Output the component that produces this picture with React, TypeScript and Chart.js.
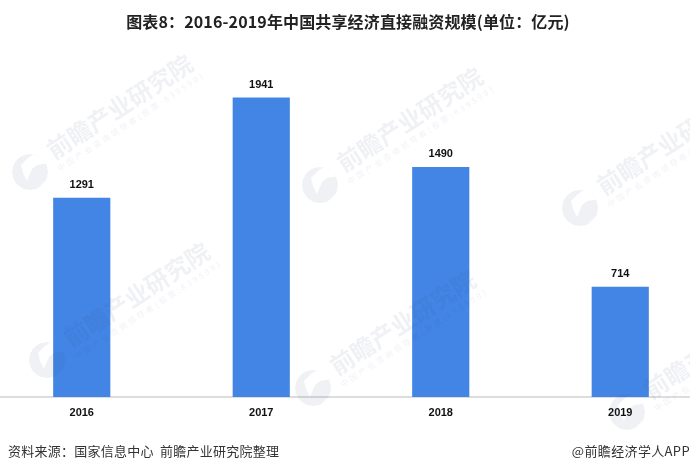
import { useEffect, useRef } from "react";
import { Chart, registerables } from "chart.js";
import type { Plugin } from "chart.js";

Chart.register(...registerables);

const years = ["2016", "2017", "2018", "2019"];
const amounts = [1291, 1941, 1490, 714];

const titleText = "图表8：2016-2019年中国共享经济直接融资规模(单位：亿元)";
const sourceText = "资料来源：国家信息中心  前瞻产业研究院整理";
const creditText = "@前瞻经济学人APP";
const markName = "前瞻产业研究院";
const markSub = "中国产业咨询领导者(股票:839599)";

// canvas is wider than the page, the outer bars sit closer to the edge than a category band allows
const bleed = 8;
const cjk = '"Noto Sans CJK SC", sans-serif';
const latin = '"Liberation Sans", sans-serif';

const markSpots = [
  [30, 172],
  [320, 185],
  [580, 208],
  [47, 360],
  [313, 388],
  [627, 412],
];

const watermark: Plugin<"bar"> = {
  id: "watermark",
  afterDatasetsDraw(chart) {
    const { ctx } = chart;
    ctx.save();
    ctx.translate(bleed, 0);
    ctx.fillStyle = "rgba(50, 70, 120, 0.075)";
    for (const [x, y] of markSpots) {
      ctx.save();
      ctx.translate(x, y);
      // round logo with the notch cut out of it
      ctx.save();
      ctx.beginPath();
      ctx.arc(0, 0, 18, 0, Math.PI * 2);
      ctx.clip();
      ctx.beginPath();
      ctx.arc(0, 0, 18, 0, Math.PI * 2);
      ctx.moveTo(-7, 1);
      ctx.lineTo(-9, -7);
      ctx.lineTo(-2, -14);
      ctx.lineTo(7, -20);
      ctx.lineTo(20, -9);
      ctx.lineTo(7, -7);
      ctx.lineTo(2, -3);
      ctx.lineTo(-3, 9);
      ctx.closePath();
      ctx.moveTo(19, 5);
      ctx.lineTo(24, 24);
      ctx.lineTo(5, 19);
      ctx.closePath();
      ctx.fill("evenodd");
      ctx.restore();
      ctx.rotate((-33 * Math.PI) / 180);
      ctx.font = `bold 24px ${cjk}`;
      ctx.textBaseline = "middle";
      ctx.fillText(markName, 27, -6);
      ctx.font = `8px ${cjk}`;
      ctx.letterSpacing = "2.6px";
      ctx.fillText(markSub, 25, 13);
      ctx.restore();
    }
    ctx.restore();
  },
};

const pageText: Plugin<"bar"> = {
  id: "pageText",
  afterDatasetsDraw(chart) {
    const { ctx } = chart;
    const meta = chart.getDatasetMeta(0);
    ctx.save();
    ctx.fillStyle = "#111";
    ctx.font = `bold 11px ${latin}`;
    ctx.textAlign = "center";
    ctx.textBaseline = "alphabetic";
    meta.data.forEach((bar, i) => {
      ctx.fillText(String(amounts[i]), bar.x, bar.y - 10);
    });
    ctx.fillStyle = "#222";
    ctx.font = `bold 16px ${cjk}`;
    ctx.letterSpacing = "0.14px";
    ctx.fillText(titleText, bleed + 348, 28);
    ctx.textAlign = "left";
    ctx.fillStyle = "#333";
    ctx.font = `13px ${cjk}`;
    ctx.letterSpacing = "0.25px";
    ctx.fillText(sourceText, bleed + 8, 456);
    ctx.textAlign = "right";
    ctx.letterSpacing = "0.35px";
    ctx.fillText(creditText, bleed + 690, 456);
    ctx.restore();
  },
};

export default function App() {
  const canvasRef = useRef<HTMLCanvasElement>(null);

  useEffect(() => {
    if (!canvasRef.current) return;
    const chart = new Chart(canvasRef.current, {
      type: "bar",
      data: {
        labels: years,
        datasets: [
          {
            data: amounts,
            backgroundColor: "#4285e4",
            barThickness: 56.5,
          },
        ],
      },
      options: {
        responsive: false,
        animation: false,
        layout: { padding: { top: 58, bottom: 0, left: 0, right: 0 } },
        plugins: {
          legend: { display: false },
          tooltip: { enabled: false },
        },
        scales: {
          x: {
            grid: { display: false, drawTicks: false },
            border: { color: "#dddddd", width: 2 },
            ticks: {
              color: "#111",
              font: { family: latin, size: 11, weight: "bold" },
              padding: 9,
              maxRotation: 0,
            },
            afterFit(scale) {
              scale.height = 75;
            },
          },
          y: {
            display: false,
            min: 0,
            max: 2200,
          },
        },
      },
      plugins: [watermark, pageText],
    });
    return () => chart.destroy();
  }, []);

  return (
    <div style={{ position: "absolute", left: 0, top: 0, width: 690, height: 472, overflow: "hidden", background: "#fff" }}>
      <canvas
        ref={canvasRef}
        width={718}
        height={472}
        style={{ position: "absolute", left: -bleed, top: 0 }}
      ></canvas>
    </div>
  );
}
